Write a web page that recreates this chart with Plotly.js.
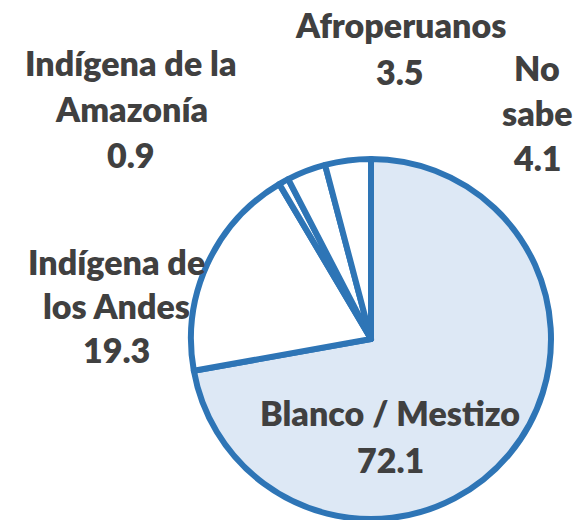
<!DOCTYPE html>
<html>
<head>
<meta charset="utf-8">
<script src="https://cdn.plot.ly/plotly-3.0.1.min.js"></script>
<style>html,body{margin:0;padding:0;background:#fff;}#chart{width:577px;height:520px;}</style>
</head>
<body>
<div id="chart"></div>
<script>
const categories = ["Blanco / Mestizo", "Indígena de los Andes", "Indígena de la Amazonía", "Afroperuanos", "No sabe"];
const values = [72.1, 19.3, 0.9, 3.5, 4.1];
const labelLines = [
  ["Blanco / Mestizo"],
  ["Indígena de", "los Andes"],
  ["Indígena de la", "Amazonía"],
  ["Afroperuanos"],
  ["No", "sabe"]
];
const valueLabels = ["72.1", "19.3", "0.9", "3.5", "4.1"];

// label placement (pixels): center x, first line middle y, line step
const labelPos = [
  {x: 390, y: 412, step: 47},
  {x: 116, y: 261, step: 44},
  {x: 131, y: 62, step: 46},
  {x: 400, y: 24, step: 48},
  {x: 537, y: 67, step: 45}
];

const W = 577, H = 520;
const annotations = [];
categories.forEach((c, i) => {
  const lines = labelLines[i].concat([valueLabels[i]]);
  lines.forEach((t, j) => {
    const py = labelPos[i].y + j * labelPos[i].step;
    annotations.push({
      text: t, xref: 'paper', yref: 'paper',
      x: labelPos[i].x / W, y: 1 - py / H,
      xanchor: 'center', yanchor: 'middle', showarrow: false,
      font: {family: 'Lato, "Open Sans", sans-serif', size: 34, color: '#404040', weight: 800}
    });
  });
});

const trace = {
  type: 'pie',
  labels: categories,
  values: values,
  sort: false,
  direction: 'clockwise',
  rotation: 0,
  textinfo: 'none',
  hoverinfo: 'label+value',
  marker: {
    colors: ['#dde8f5', '#ffffff', '#ffffff', '#ffffff', '#ffffff'],
    line: {color: '#2e75b6', width: 6}
  },
  domain: {x: [191 / W, 551 / W], y: [1 / H, 361 / H]},
  showlegend: false
};

const layout = {
  width: W, height: H,
  margin: {l: 0, r: 0, t: 0, b: 0},
  paper_bgcolor: '#ffffff',
  plot_bgcolor: '#ffffff',
  showlegend: false,
  annotations: annotations
};

Plotly.newPlot('chart', [trace], layout, {displayModeBar: false, staticPlot: true});
</script>
</body>
</html>
